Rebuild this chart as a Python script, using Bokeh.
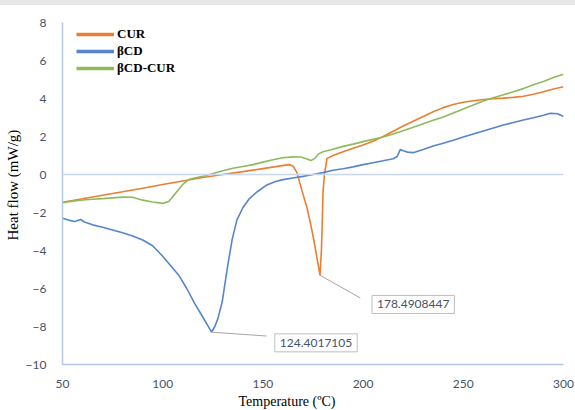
from bokeh.plotting import figure
from bokeh.models import Range1d, Span, Label, Legend, LegendItem, Title, Div, FixedTicker
from bokeh.layouts import column
from bokeh.embed import file_html
from bokeh.resources import INLINE

# ---------------- data ----------------
cur_t = [50, 60, 70, 80, 90, 100, 110, 120, 130, 140, 150, 158, 163, 165, 167, 169.5, 172, 174,
         175.5, 177, 178.49, 179.2, 179.6, 180, 180.7, 182, 185, 190, 195, 200, 205, 210, 215, 220,
         225, 230, 235, 240, 245, 250, 255, 260, 265, 270, 275, 280, 285, 290, 295, 300]
cur_v = [-1.46, -1.28, -1.09, -0.91, -0.72, -0.53, -0.34, -0.16, 0.0, 0.15, 0.31, 0.44, 0.52, 0.45,
         0.10, -0.85, -1.75, -2.7, -3.5, -4.4, -5.3, -4.0, -2.6, -0.9, 0.0, 0.85, 1.0, 1.2, 1.38,
         1.55, 1.75, 2.0, 2.28, 2.55, 2.8, 3.05, 3.3, 3.52, 3.68, 3.8, 3.88, 3.95, 3.99, 4.02, 4.06,
         4.12, 4.22, 4.36, 4.5, 4.62]

bcd_t = [50, 53, 56, 59, 61, 65, 70, 75, 80, 85, 90, 95, 100, 104, 108, 112, 116, 120, 122.5,
         124.4, 126, 127.5, 129.7, 132.2, 134.7, 137, 140, 143, 147, 152, 156, 160, 165, 170, 175,
         180, 185, 190, 195, 200, 205, 210, 215, 217, 218.6, 220, 222, 225, 230, 235, 240, 245,
         250, 255, 260, 265, 270, 275, 280, 285, 290, 293.5, 297, 300]
bcd_v = [-2.3, -2.4, -2.47, -2.37, -2.5, -2.65, -2.78, -2.92, -3.07, -3.24, -3.45, -3.75, -4.3,
         -4.8, -5.3, -6.0, -6.8, -7.5, -7.95, -8.3, -8.0, -7.6, -6.7, -4.95, -3.4, -2.4, -1.75,
         -1.3, -0.92, -0.55, -0.38, -0.27, -0.18, -0.1, 0.0, 0.1, 0.22, 0.3, 0.4, 0.52, 0.62,
         0.72, 0.83, 0.95, 1.32, 1.25, 1.18, 1.15, 1.32, 1.5, 1.65, 1.8, 1.97, 2.13, 2.29, 2.45,
         2.6, 2.74, 2.87, 2.99, 3.12, 3.22, 3.2, 3.05]

mix_t = [50, 55, 60, 65, 70, 75, 80, 85, 90, 95, 100, 103, 106.5, 110, 113, 116, 120, 126, 130,
         135, 140, 145, 150, 155, 160, 165, 169, 172, 174, 176, 178, 180, 184, 190, 195, 200, 205,
         210, 215, 220, 225, 230, 235, 240, 245, 250, 255, 260, 265, 270, 275, 280, 285, 290, 295,
         300]
mix_v = [-1.49, -1.4, -1.34, -1.3, -1.27, -1.23, -1.19, -1.2, -1.35, -1.45, -1.52, -1.42, -0.98,
         -0.52, -0.27, -0.18, -0.1, 0.08, 0.2, 0.33, 0.42, 0.52, 0.65, 0.78, 0.88, 0.93, 0.92,
         0.82, 0.74, 0.85, 1.1, 1.2, 1.3, 1.48, 1.6, 1.73, 1.85, 1.97, 2.13, 2.3, 2.49, 2.67, 2.85,
         3.03, 3.24, 3.45, 3.66, 3.87, 4.04, 4.2, 4.35, 4.52, 4.72, 4.9, 5.1, 5.28]

series_names = ["CUR", "\u03b2CD", "\u03b2CD-CUR"]
x_ticks = [50, 100, 150, 200, 250, 300]
y_ticks = [-10, -8, -6, -4, -2, 0, 2, 4, 6, 8]

peak_cur = (178.4908447, -5.3)
peak_bcd = (124.4017105, -8.3)

# ---------------- styling ----------------
C_CUR = "#ED7D31"
C_BCD = "#5585CC"
C_MIX = "#8DBB5A"
TICK_COL = "#44546A"
AXIS_COL = "#b4c7e7"
NAN = float("nan")

p = figure(width=575, height=405, x_range=Range1d(50, 300), y_range=Range1d(-10, 8),
           output_backend="svg", toolbar_location=None,
           min_border_left=62, min_border_right=12, min_border_top=17, min_border_bottom=45)
p.background_fill_color = "white"
p.border_fill_color = "white"
p.outline_line_color = None
p.xgrid.grid_line_color = None
p.ygrid.grid_line_color = None

for ax, ticks in ((p.xaxis[0], x_ticks), (p.yaxis[0], y_ticks)):
    ax.ticker = FixedTicker(ticks=ticks)
    ax.axis_line_color = AXIS_COL
    ax.axis_line_width = 1.5
    ax.major_tick_line_color = None
    ax.minor_tick_line_color = None
    ax.major_label_text_color = TICK_COL
    ax.major_label_text_font = "Lato"
    ax.major_label_text_font_size = "12px"
p.xaxis[0].major_label_standoff = 9
p.yaxis[0].major_label_standoff = 10

p.add_layout(Span(location=0, dimension="width", line_color="#c9d8ee", line_width=1.5))

r_cur = p.line(cur_t, cur_v, line_color=C_CUR, line_width=1.6)
r_bcd = p.line(bcd_t, bcd_v, line_color=C_BCD, line_width=1.6)
r_mix = p.line(mix_t, mix_v, line_color=C_MIX, line_width=1.6)

# leader lines + value boxes
lead_cur_end = (198.6, -6.5)
lead_bcd_end = (151.8, -8.5)
p.segment(x0=[peak_cur[0], peak_bcd[0]], y0=[peak_cur[1], peak_bcd[1]],
          x1=[lead_cur_end[0], lead_bcd_end[0]], y1=[lead_cur_end[1], lead_bcd_end[1]],
          line_color="#a6a6a6", line_width=1)

for (tx, ty), val in (((225.0, -6.84), peak_cur[0]), ((176.5, -8.86), peak_bcd[0])):
    p.add_layout(Label(x=tx, y=ty, text=f"{val:.7f}", text_align="center", text_baseline="middle",
                       text_font="Lato", text_font_size="12px", text_color=TICK_COL,
                       border_line_color="#bfbfbf", border_line_width=1,
                       background_fill_color="white", padding=5))

# legend with thicker sample lines (renderers hold no visible data)
l_cur = p.line([NAN], [NAN], line_color=C_CUR, line_width=3.5)
l_bcd = p.line([NAN], [NAN], line_color=C_BCD, line_width=3.5)
l_mix = p.line([NAN], [NAN], line_color=C_MIX, line_width=3.5)
legend = Legend(items=[LegendItem(label=series_names[0], renderers=[l_cur]),
                       LegendItem(label=series_names[1], renderers=[l_bcd]),
                       LegendItem(label=series_names[2], renderers=[l_mix])],
                location=(14, 288), orientation="vertical",
                label_text_font="Liberation Serif", label_text_font_style="bold",
                label_text_font_size="13px", label_text_color="black",
                glyph_width=38, glyph_height=16, label_height=16, spacing=1,
                padding=0, margin=0, label_standoff=3,
                border_line_alpha=0, background_fill_alpha=0)
p.add_layout(legend)

xt = Title(text="Temperature (\u00baC)", align="left", offset=176, text_font="Liberation Serif",
           text_font_size="14px", text_font_style="normal", text_color="black", standoff=3)
p.add_layout(xt, "below")
yt = Title(text="Heat flow (mW/g)", align="left", offset=124, text_font="Liberation Serif",
           text_font_size="15px", text_font_style="normal", text_color="black", standoff=3)
p.add_layout(yt, "left")

band = Div(width=575, height=5, margin=0, styles={"background-color": "#e6e7e9"})
layout = column(band, p, spacing=0, margin=0)

open("out.html", "w").write(file_html(layout, INLINE))
